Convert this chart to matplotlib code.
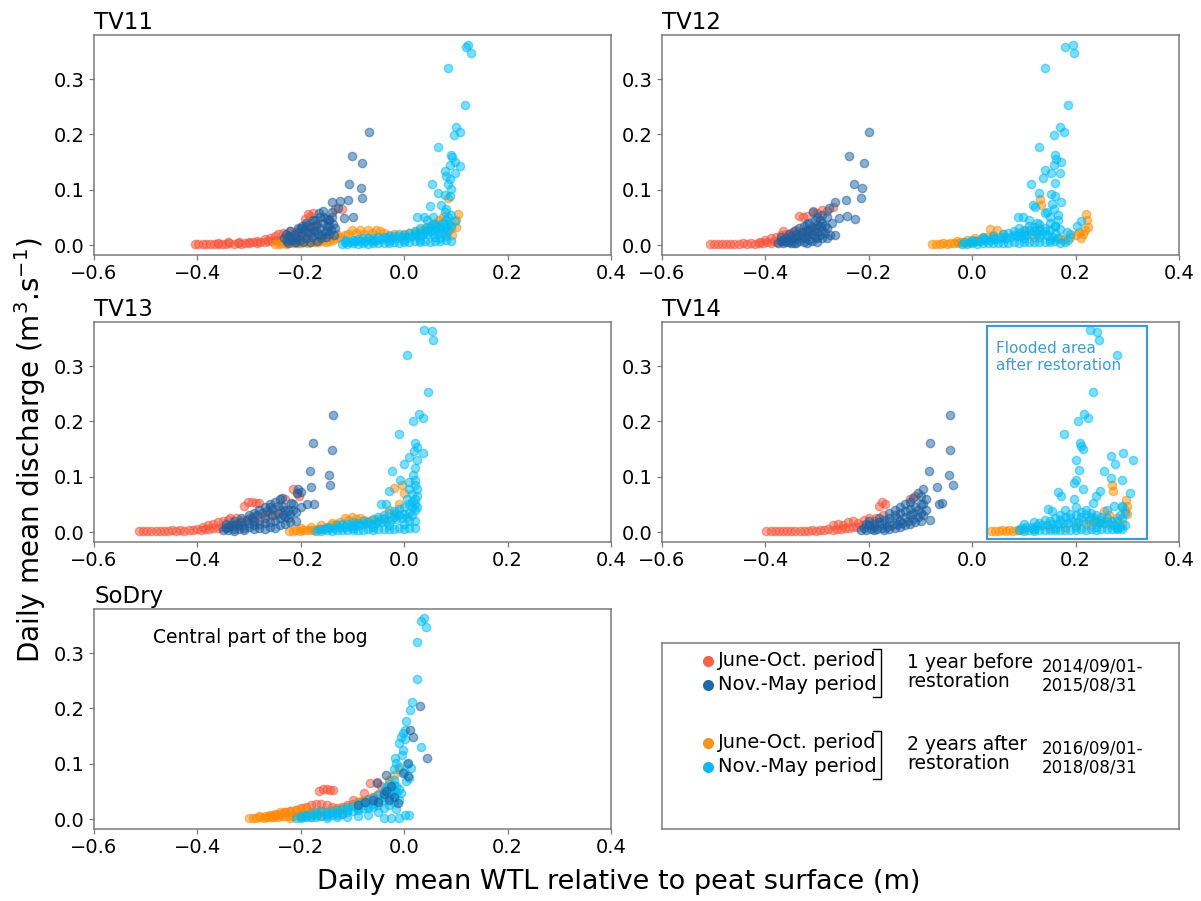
import matplotlib
matplotlib.use("Agg")
import matplotlib.pyplot as plt
from matplotlib.patches import Rectangle

# ---------------- data (WTL in m, discharge in m3/s) ----------------
panels = ["TV11", "TV12", "TV13", "TV14", "SoDry"]
x_ticks = [-0.6, -0.4, -0.2, 0.0, 0.2, 0.4]
y_ticks = [0.0, 0.1, 0.2, 0.3]

legend_labels = ["June-Oct. period", "Nov.-May period", "June-Oct. period", "Nov.-May period"]
period_labels = ["1 year before\nrestoration", "2 years after\nrestoration"]
date_labels = ["2014/09/01-\n2015/08/31", "2016/09/01-\n2018/08/31"]

# TV11
tv11_jo_before = [(-0.405,0.002),(-0.398,0.001),(-0.39,0.002),(-0.383,0.001),(-0.375,0.002),(-0.368,0.001),(-0.36,0.002),(-0.352,0.002),(-0.345,0.001),(-0.338,0.003),(-0.33,0.002),(-0.322,0.003),(-0.315,0.002),(-0.308,0.004),(-0.3,0.003),(-0.293,0.005),(-0.285,0.004),(-0.278,0.006),(-0.27,0.005),(-0.263,0.008),(-0.255,0.007),(-0.248,0.01),(-0.24,0.009),(-0.233,0.012),(-0.225,0.011),(-0.218,0.014),(-0.21,0.013),(-0.203,0.017),(-0.195,0.016),(-0.188,0.02),
    (-0.3,0.006),(-0.285,0.008),(-0.27,0.011),(-0.26,0.013),(-0.25,0.016),(-0.245,0.02),(-0.235,0.022),(-0.228,0.018),(-0.22,0.025),(-0.212,0.02),(-0.205,0.028),(-0.198,0.024),(-0.19,0.032),(-0.182,0.03),(-0.175,0.035),(-0.168,0.04),
    (-0.191,0.047),(-0.187,0.056),(-0.182,0.052),(-0.176,0.058),(-0.145,0.045),(-0.133,0.065),(-0.12,0.065),(-0.36,0.004),(-0.34,0.005),(-0.32,0.006)]
tv11_nm_before = [(-0.232,0.012),(-0.226,0.008),(-0.222,0.016),(-0.218,0.01),(-0.214,0.02),(-0.21,0.013),(-0.206,0.024),(-0.202,0.01),(-0.198,0.018),(-0.194,0.028),(-0.19,0.012),(-0.186,0.022),(-0.182,0.032),(-0.178,0.015),(-0.174,0.026),(-0.17,0.036),(-0.166,0.02),(-0.162,0.03),(-0.158,0.04),(-0.154,0.024),(-0.15,0.034),(-0.146,0.045),(-0.142,0.028),(-0.138,0.038),(-0.134,0.03),
    (-0.228,0.02),(-0.22,0.025),(-0.212,0.006),(-0.205,0.03),(-0.198,0.035),(-0.19,0.04),(-0.183,0.005),(-0.176,0.045),(-0.168,0.008),(-0.16,0.012),(-0.152,0.015),(-0.145,0.02),(-0.14,0.05),(-0.135,0.018),
    (-0.225,0.004),(-0.21,0.005),(-0.195,0.006),(-0.18,0.022),(-0.17,0.028),(-0.16,0.018),(-0.15,0.025),(-0.145,0.035),(-0.2,0.03),(-0.188,0.036),(-0.172,0.045),(-0.163,0.05),(-0.15,0.048),(-0.14,0.06),
    (-0.165,0.058),(-0.158,0.061),(-0.14,0.077),(-0.128,0.067),(-0.125,0.079),(-0.109,0.081),(-0.116,0.049),(-0.099,0.051),(-0.107,0.111),(-0.083,0.104),(-0.082,0.086),(-0.101,0.161),(-0.081,0.148),(-0.069,0.205),(-0.155,0.05)]
tv11_jo_after = [(-0.25,0.002),(-0.243,0.002),(-0.236,0.003),(-0.229,0.002),(-0.222,0.003),(-0.215,0.004),(-0.208,0.003),(-0.201,0.004),(-0.194,0.005),(-0.187,0.004),(-0.18,0.005),(-0.173,0.006),(-0.166,0.005),(-0.159,0.007),(-0.152,0.006),(-0.145,0.008),(-0.138,0.01),(-0.131,0.012),(-0.124,0.015),(-0.2,0.008),(-0.19,0.009),(-0.175,0.01),(-0.16,0.012),(-0.145,0.014),(-0.13,0.02),
    (-0.115,0.018),(-0.108,0.02),(-0.101,0.027),(-0.093,0.022),(-0.085,0.027),(-0.077,0.02),(-0.07,0.027),(-0.062,0.022),(-0.055,0.027),(-0.047,0.026),(-0.04,0.022),(-0.03,0.018),(-0.02,0.02),(-0.01,0.017),(0.0,0.02),(0.01,0.022),(0.02,0.024),(0.03,0.028),(0.04,0.03),(0.05,0.035),(0.06,0.04),(0.068,0.045),(0.075,0.05),(0.085,0.085),(0.09,0.03),(0.092,0.019),(0.1,0.045),(0.101,0.032),(0.105,0.056),(0.08,0.02)]
tv11_nm_after = [(-0.12,0.002),(-0.11,0.002),(-0.1,0.003),(-0.09,0.002),(-0.08,0.003),(-0.07,0.002),(-0.06,0.004),(-0.05,0.003),(-0.04,0.004),(-0.03,0.003),(-0.02,0.005),(-0.01,0.004),(0.0,0.006),(0.01,0.005),(0.02,0.007),(0.03,0.006),(0.04,0.008),(0.05,0.006),(0.06,0.008),(0.07,0.007),(0.08,0.009),(0.09,0.008),
    (-0.115,0.005),(-0.105,0.006),(-0.095,0.007),(-0.085,0.008),(-0.075,0.008),(-0.065,0.009),(-0.055,0.01),(-0.045,0.011),(-0.035,0.012),(-0.025,0.012),(-0.015,0.013),(-0.005,0.014),(0.005,0.015),(0.015,0.016),(0.025,0.017),(0.035,0.018),(0.045,0.02),(0.055,0.02),(0.065,0.022),(0.075,0.024),(0.085,0.026),
    (-0.09,0.011),(-0.07,0.013),(-0.05,0.015),(-0.03,0.017),(-0.01,0.02),(0.01,0.022),(0.02,0.026),(0.03,0.03),(0.04,0.028),(0.045,0.033),(0.05,0.03),(0.055,0.038),(0.06,0.034),(0.065,0.036),(0.07,0.03),(0.075,0.04),(0.08,0.045),(0.085,0.05),(0.09,0.035),(0.09,0.055),
    (-0.115,0.009),(-0.1,0.01),(-0.08,0.012),(-0.06,0.013),(-0.04,0.015),(-0.02,0.016),(0.0,0.018),(0.02,0.02),(0.03,0.022),(0.04,0.024),(0.05,0.026),(0.06,0.028),(0.07,0.03),(0.08,0.032),(0.085,0.038),(0.06,0.015),(0.07,0.012),(0.08,0.016),(0.03,0.01),(0.0,0.01),(-0.03,0.008),(-0.06,0.007),(0.045,0.045),(0.055,0.05),
    (0.124,0.362),(0.119,0.358),(0.129,0.348),(0.085,0.321),(0.118,0.253),(0.101,0.213),(0.096,0.199),(0.107,0.205),(0.066,0.177),(0.091,0.163),(0.089,0.145),(0.098,0.151),(0.108,0.143),(0.078,0.134),(0.081,0.125),(0.098,0.131),(0.053,0.111),(0.085,0.111),(0.091,0.101),(0.066,0.095),(0.078,0.09),(0.089,0.088),(0.049,0.071),(0.071,0.072),(0.079,0.059),(0.024,0.05),(0.038,0.05),(0.08,0.065),(0.099,0.044),(0.088,0.12),(0.093,0.16)]

# TV12
tv12_jo_before = [(-0.508,0.002),(-0.5,0.001),(-0.492,0.002),(-0.484,0.002),(-0.476,0.001),(-0.468,0.002),(-0.46,0.002),(-0.452,0.001),(-0.444,0.003),(-0.436,0.002),(-0.428,0.003),(-0.42,0.002),(-0.412,0.004),(-0.404,0.003),
    (-0.396,0.005),(-0.39,0.004),(-0.384,0.007),(-0.378,0.006),(-0.372,0.01),(-0.366,0.008),(-0.36,0.013),(-0.354,0.011),(-0.348,0.016),(-0.342,0.014),(-0.336,0.02),(-0.33,0.018),(-0.324,0.024),(-0.318,0.022),(-0.312,0.028),(-0.306,0.026),(-0.3,0.03),
    (-0.39,0.012),(-0.38,0.015),(-0.37,0.018),(-0.36,0.02),(-0.35,0.022),(-0.34,0.027),(-0.335,0.053),(-0.328,0.05),(-0.32,0.052),(-0.308,0.062),(-0.3,0.058),(-0.29,0.063),(-0.28,0.062),(-0.27,0.068),(-0.365,0.025),(-0.4,0.009),(-0.41,0.006)]
tv12_nm_before = [(-0.375,0.004),(-0.37,0.008),(-0.365,0.003),(-0.36,0.012),(-0.355,0.005),(-0.35,0.016),(-0.345,0.004),(-0.34,0.02),(-0.335,0.008),(-0.33,0.024),(-0.325,0.006),(-0.32,0.028),(-0.315,0.01),(-0.31,0.032),(-0.305,0.014),(-0.3,0.036),(-0.295,0.018),(-0.29,0.04),(-0.285,0.022),(-0.28,0.03),
    (-0.36,0.006),(-0.35,0.01),(-0.34,0.012),(-0.33,0.014),(-0.32,0.018),(-0.31,0.02),(-0.3,0.024),(-0.29,0.028),(-0.37,0.014),(-0.355,0.02),(-0.345,0.026),(-0.335,0.03),(-0.325,0.034),(-0.315,0.04),(-0.305,0.045),(-0.34,0.004),(-0.32,0.004),(-0.3,0.006),(-0.28,0.012),(-0.275,0.018),
    (-0.365,0.01),(-0.35,0.004),(-0.335,0.018),(-0.325,0.012),(-0.315,0.026),(-0.305,0.03),(-0.295,0.034),(-0.285,0.035),(-0.29,0.012),(-0.31,0.008),(-0.3,0.012),(-0.32,0.038),(-0.295,0.045),
    (-0.2,0.205),(-0.238,0.161),(-0.209,0.148),(-0.228,0.111),(-0.213,0.104),(-0.215,0.086),(-0.244,0.081),(-0.266,0.077),(-0.277,0.067),(-0.258,0.049),(-0.242,0.052),(-0.226,0.048),(-0.266,0.019),(-0.308,0.06),(-0.29,0.055),(-0.28,0.05),(-0.3,0.05),(-0.272,0.04)]
tv12_jo_after = [(-0.077,0.002),(-0.07,0.002),(-0.063,0.002),(-0.056,0.003),(-0.049,0.002),(-0.042,0.003),(-0.035,0.004),(-0.028,0.003),(-0.021,0.005),(-0.014,0.004),(-0.007,0.006),(0.0,0.007),(0.007,0.008),(0.014,0.01),(0.021,0.012),(0.028,0.015),(0.034,0.029),(0.048,0.027),(0.04,0.018),(0.06,0.02),(-0.03,0.008),(-0.01,0.01),(0.005,0.012),
    (0.131,0.084),(0.134,0.073),(0.169,0.012),(0.175,0.01),(0.19,0.015),(0.2,0.018),(0.207,0.023),(0.214,0.02),(0.21,0.012),(0.22,0.056),(0.222,0.046),(0.224,0.032),(0.218,0.028),(0.13,0.03),(0.1,0.025),(0.12,0.015)]
tv12_nm_after = [(-0.02,0.002),(-0.01,0.002),(0.0,0.003),(0.01,0.002),(0.02,0.003),(0.03,0.003),(0.04,0.004),(0.05,0.003),(0.06,0.004),(0.07,0.004),(0.08,0.005),(0.09,0.004),(0.1,0.005),(0.11,0.005),(0.12,0.006),(0.13,0.005),(0.14,0.006),(0.15,0.006),(0.16,0.007),(0.17,0.004),
    (-0.015,0.005),(-0.005,0.006),(0.005,0.007),(0.015,0.008),(0.025,0.009),(0.035,0.01),(0.045,0.011),(0.055,0.012),(0.065,0.013),(0.075,0.014),(0.085,0.016),(0.095,0.017),(0.105,0.018),(0.115,0.02),(0.125,0.022),(0.135,0.02),(0.145,0.018),(0.155,0.015),(0.165,0.012),
    (0.02,0.014),(0.04,0.016),(0.06,0.02),(0.08,0.025),(0.09,0.03),(0.1,0.028),(0.11,0.035),(0.12,0.032),(0.13,0.038),(0.14,0.03),(0.15,0.04),(0.16,0.035),(0.089,0.05),(0.099,0.05),(0.11,0.045),(0.14,0.058),(0.158,0.065),(0.16,0.035),(0.169,0.029),(0.184,0.023),(0.19,0.02),(0.203,0.035),(0.211,0.044),(0.179,0.005),(0.185,0.01),
    (0.0,0.01),(0.02,0.012),(0.04,0.013),(0.06,0.015),(0.08,0.018),(0.1,0.02),(0.12,0.025),(0.13,0.028),(0.14,0.025),(0.15,0.028),(0.16,0.022),(0.07,0.022),(0.09,0.022),(0.11,0.028),(0.125,0.04),(0.15,0.05),(0.165,0.045),(0.1,0.012),(0.13,0.015),(0.15,0.01),
    (0.195,0.362),(0.179,0.358),(0.197,0.348),(0.141,0.321),(0.186,0.253),(0.169,0.213),(0.158,0.199),(0.177,0.205),(0.129,0.177),(0.16,0.163),(0.162,0.155),(0.158,0.145),(0.171,0.151),(0.169,0.13),(0.141,0.136),(0.136,0.122),(0.153,0.131),(0.113,0.111),(0.16,0.113),(0.129,0.095),(0.153,0.092),(0.16,0.088),(0.171,0.077),(0.117,0.073),(0.122,0.068),(0.145,0.06),(0.155,0.075),(0.165,0.055)]

# TV13
tv13_jo_before = [(-0.513,0.002),(-0.505,0.002),(-0.497,0.001),(-0.489,0.002),(-0.481,0.002),(-0.473,0.001),(-0.465,0.002),(-0.457,0.002),(-0.449,0.003),(-0.441,0.002),(-0.433,0.003),(-0.425,0.002),(-0.417,0.004),(-0.409,0.003),(-0.401,0.005),(-0.393,0.004),(-0.385,0.006),(-0.377,0.005),(-0.369,0.008),(-0.361,0.007),(-0.353,0.01),(-0.345,0.009),(-0.337,0.012),(-0.329,0.011),(-0.321,0.015),(-0.313,0.013),
    (-0.39,0.01),(-0.38,0.012),(-0.37,0.015),(-0.36,0.018),(-0.35,0.02),(-0.34,0.022),(-0.337,0.026),(-0.325,0.026),(-0.315,0.022),(-0.309,0.047),(-0.303,0.055),(-0.295,0.054),(-0.287,0.052),(-0.28,0.052),(-0.3,0.025),(-0.29,0.028),(-0.28,0.02),(-0.27,0.03),(-0.26,0.035),(-0.25,0.03),(-0.24,0.04),(-0.215,0.077),(-0.208,0.07),(-0.203,0.065),(-0.23,0.06)]
tv13_nm_before = [(-0.35,0.003),(-0.345,0.008),(-0.34,0.004),(-0.335,0.012),(-0.33,0.005),(-0.325,0.015),(-0.32,0.006),(-0.315,0.018),(-0.31,0.008),(-0.305,0.022),(-0.3,0.01),(-0.295,0.025),(-0.29,0.012),(-0.285,0.03),(-0.28,0.014),(-0.275,0.034),(-0.27,0.016),(-0.265,0.038),(-0.26,0.018),(-0.255,0.042),(-0.25,0.02),(-0.245,0.035),(-0.24,0.025),(-0.235,0.045),(-0.23,0.028),(-0.225,0.04),(-0.22,0.032),(-0.215,0.05),(-0.21,0.036),
    (-0.34,0.01),(-0.33,0.002),(-0.32,0.012),(-0.31,0.003),(-0.3,0.016),(-0.29,0.005),(-0.28,0.008),(-0.27,0.006),(-0.26,0.01),(-0.25,0.008),(-0.24,0.012),(-0.23,0.015),(-0.22,0.018),(-0.21,0.02),(-0.3,0.03),(-0.28,0.04),(-0.26,0.045),(-0.25,0.055),(-0.24,0.06),
    (-0.345,0.015),(-0.33,0.02),(-0.315,0.025),(-0.29,0.035),(-0.27,0.025),(-0.255,0.03),(-0.245,0.048),(-0.235,0.03),(-0.225,0.025),(-0.215,0.04),(-0.29,0.02),(-0.27,0.045),(-0.26,0.05),
    (-0.138,0.211),(-0.176,0.161),(-0.14,0.148),(-0.182,0.111),(-0.146,0.104),(-0.144,0.086),(-0.18,0.081),(-0.205,0.078),(-0.208,0.07),(-0.2,0.072),(-0.237,0.062),(-0.188,0.05),(-0.174,0.05),(-0.219,0.053),(-0.23,0.04),(-0.2,0.045)]
tv13_jo_after = [(-0.223,0.002),(-0.216,0.002),(-0.209,0.003),(-0.202,0.002),(-0.195,0.003),(-0.188,0.003),(-0.181,0.004),(-0.174,0.004),(-0.167,0.005),(-0.16,0.006),(-0.153,0.008),(-0.146,0.01),(-0.139,0.012),(-0.132,0.015),(-0.125,0.018),(-0.115,0.026),(-0.108,0.022),(-0.101,0.027),(-0.093,0.024),(-0.085,0.025),(-0.077,0.022),(-0.07,0.02),(-0.06,0.022),(-0.05,0.024),(-0.04,0.026),(-0.03,0.04),(-0.01,0.05),(-0.019,0.08),(-0.004,0.086),(0.0,0.07),(-0.2,0.008),(-0.18,0.01),(-0.16,0.012),(-0.14,0.016),(-0.02,0.03)]
tv13_nm_after = [(-0.17,0.002),(-0.16,0.002),(-0.15,0.003),(-0.14,0.002),(-0.13,0.003),(-0.12,0.003),(-0.11,0.004),(-0.1,0.003),(-0.09,0.004),(-0.08,0.004),(-0.07,0.005),(-0.06,0.004),(-0.05,0.005),(-0.04,0.006),(-0.03,0.005),(-0.02,0.006),(-0.01,0.007),(0.0,0.006),(0.01,0.008),(0.02,0.007),
    (-0.165,0.005),(-0.155,0.006),(-0.145,0.007),(-0.135,0.008),(-0.125,0.009),(-0.115,0.01),(-0.105,0.011),(-0.095,0.012),(-0.085,0.013),(-0.075,0.014),(-0.065,0.015),(-0.055,0.016),(-0.045,0.018),(-0.035,0.02),(-0.025,0.022),(-0.015,0.024),(-0.005,0.026),(0.005,0.028),(0.015,0.03),(0.02,0.02),
    (-0.12,0.015),(-0.1,0.018),(-0.08,0.02),(-0.06,0.024),(-0.05,0.028),(-0.04,0.03),(-0.03,0.035),(-0.02,0.038),(-0.01,0.042),(0.0,0.045),(0.01,0.05),(0.015,0.055),(0.02,0.06),(0.025,0.065),(0.02,0.04),(0.01,0.035),(0.005,0.06),
    (-0.15,0.01),(-0.13,0.012),(-0.11,0.014),(-0.09,0.016),(-0.07,0.018),(-0.05,0.02),(-0.04,0.024),(-0.02,0.028),(-0.01,0.03),(0.0,0.032),(0.01,0.02),(-0.1,0.008),(-0.06,0.01),(-0.03,0.012),(0.0,0.015),(0.015,0.045),(0.02,0.05),(-0.015,0.035),
    (0.053,0.363),(0.039,0.365),(0.056,0.348),(0.006,0.321),(0.046,0.254),(0.028,0.213),(0.017,0.2),(0.037,0.206),(-0.01,0.177),(0.021,0.161),(0.024,0.153),(0.018,0.146),(0.036,0.143),(0.01,0.136),(0.024,0.13),(0.0,0.124),(-0.024,0.111),(0.02,0.115),(0.017,0.104),(-0.008,0.095),(0.01,0.09),(0.02,0.095),(-0.029,0.074),(0.01,0.077),(0.024,0.077),(-0.044,0.05),(-0.035,0.05),(0.024,0.046),(0.015,0.068),(0.02,0.085)]

# TV14
tv14_jo_before = [(-0.398,0.002),(-0.39,0.002),(-0.382,0.001),(-0.374,0.002),(-0.366,0.002),(-0.358,0.001),(-0.35,0.002),(-0.342,0.002),(-0.334,0.001),(-0.326,0.002),(-0.318,0.002),(-0.31,0.003),(-0.302,0.002),(-0.294,0.004),(-0.286,0.003),(-0.278,0.005),(-0.27,0.004),(-0.262,0.006),(-0.254,0.005),(-0.246,0.008),(-0.238,0.007),(-0.23,0.01),(-0.222,0.009),(-0.214,0.012),
    (-0.27,0.012),(-0.26,0.015),(-0.25,0.012),(-0.24,0.018),(-0.23,0.02),(-0.22,0.016),(-0.21,0.022),(-0.2,0.025),(-0.19,0.02),(-0.187,0.026),(-0.175,0.054),(-0.168,0.05),(-0.18,0.048),(-0.172,0.03),(-0.11,0.065),(-0.12,0.06)]
tv14_nm_before = [(-0.215,0.003),(-0.21,0.008),(-0.205,0.004),(-0.2,0.012),(-0.195,0.005),(-0.19,0.015),(-0.185,0.006),(-0.18,0.018),(-0.175,0.008),(-0.17,0.022),(-0.165,0.01),(-0.16,0.025),(-0.155,0.012),(-0.15,0.03),(-0.145,0.014),(-0.14,0.034),(-0.135,0.016),(-0.13,0.038),(-0.125,0.02),(-0.12,0.042),(-0.115,0.024),(-0.11,0.045),(-0.105,0.028),(-0.1,0.035),(-0.095,0.03),(-0.09,0.04),
    (-0.2,0.02),(-0.19,0.003),(-0.18,0.025),(-0.17,0.004),(-0.16,0.006),(-0.15,0.008),(-0.14,0.01),(-0.13,0.012),(-0.12,0.015),(-0.11,0.018),(-0.1,0.02),(-0.15,0.04),(-0.13,0.05),(-0.12,0.055),(-0.14,0.045),(-0.1,0.05),
    (-0.205,0.015),(-0.19,0.01),(-0.175,0.015),(-0.16,0.018),(-0.145,0.025),(-0.13,0.028),(-0.115,0.035),(-0.105,0.04),(-0.095,0.05),(-0.12,0.03),(-0.14,0.02),(-0.16,0.035),
    (-0.043,0.211),(-0.082,0.161),(-0.043,0.148),(-0.083,0.111),(-0.044,0.104),(-0.038,0.086),(-0.068,0.081),(-0.095,0.078),(-0.105,0.07),(-0.114,0.062),(-0.064,0.05),(-0.058,0.053),(-0.082,0.021),(-0.09,0.06),(-0.1,0.065)]
tv14_jo_after = [(0.037,0.002),(0.044,0.002),(0.051,0.002),(0.058,0.003),(0.065,0.002),(0.072,0.003),(0.079,0.002),(0.086,0.003),(0.093,0.004),(0.1,0.005),(0.12,0.006),(0.15,0.008),(0.18,0.01),(0.2,0.012),(0.22,0.015),(0.24,0.02),(0.27,0.086),(0.272,0.074),(0.255,0.038),(0.298,0.058),(0.3,0.047),(0.3,0.032),(0.248,0.017),(0.235,0.025),(0.26,0.02),(0.28,0.025),(0.29,0.015),(0.295,0.04),(0.265,0.03),(0.23,0.012)]
tv14_nm_after = [(0.09,0.003),(0.1,0.002),(0.11,0.003),(0.12,0.002),(0.13,0.003),(0.14,0.003),(0.15,0.004),(0.16,0.003),(0.17,0.004),(0.18,0.003),(0.19,0.004),(0.2,0.004),(0.21,0.005),(0.22,0.004),(0.23,0.005),(0.24,0.004),(0.25,0.005),(0.26,0.005),(0.27,0.006),(0.28,0.005),(0.29,0.006),
    (0.095,0.008),(0.105,0.009),(0.115,0.01),(0.125,0.011),(0.135,0.012),(0.145,0.013),(0.155,0.014),(0.165,0.015),(0.175,0.016),(0.185,0.017),(0.195,0.018),(0.205,0.019),(0.215,0.02),(0.225,0.021),(0.235,0.02),(0.245,0.018),(0.255,0.016),(0.265,0.014),(0.275,0.012),(0.285,0.01),(0.295,0.012),
    (0.12,0.018),(0.14,0.022),(0.16,0.025),(0.17,0.03),(0.18,0.028),(0.19,0.033),(0.2,0.03),(0.21,0.036),(0.22,0.032),(0.23,0.035),(0.24,0.03),(0.25,0.028),(0.26,0.026),(0.28,0.02),(0.29,0.025),(0.29,0.045),
    (0.1,0.015),(0.13,0.016),(0.15,0.02),(0.17,0.022),(0.19,0.025),(0.21,0.028),(0.23,0.028),(0.25,0.022),(0.27,0.02),(0.285,0.03),(0.12,0.006),(0.16,0.008),(0.2,0.009),(0.24,0.01),(0.28,0.008),(0.295,0.035),(0.26,0.04),(0.18,0.04),
    (0.241,0.362),(0.227,0.365),(0.245,0.348),(0.281,0.321),(0.234,0.254),(0.216,0.213),(0.205,0.2),(0.224,0.207),(0.177,0.178),(0.209,0.161),(0.21,0.155),(0.215,0.15),(0.201,0.131),(0.207,0.113),(0.268,0.137),(0.291,0.143),(0.311,0.13),(0.276,0.124),(0.254,0.11),(0.29,0.094),(0.268,0.097),(0.196,0.089),(0.2,0.095),(0.214,0.077),(0.165,0.073),(0.172,0.065),(0.196,0.06),(0.248,0.074),(0.305,0.07),(0.147,0.041),(0.155,0.038),(0.234,0.053),(0.24,0.065),(0.29,0.047),(0.275,0.048),(0.2,0.045),(0.22,0.04)]

# SoDry
sodry_jo_before = [(-0.26,0.005),(-0.25,0.007),(-0.24,0.009),(-0.23,0.012),(-0.22,0.015),(-0.21,0.017),(-0.2,0.02),(-0.19,0.022),(-0.18,0.025),(-0.17,0.027),(-0.16,0.028),(-0.15,0.025),(-0.14,0.022),(-0.13,0.02),(-0.12,0.022),(-0.11,0.025),(-0.1,0.027),(-0.09,0.03),(-0.08,0.033),(-0.07,0.036),(-0.06,0.04),(-0.05,0.045),
    (-0.164,0.05),(-0.158,0.055),(-0.15,0.054),(-0.143,0.052),(-0.137,0.052),(-0.067,0.065),(-0.053,0.067),(-0.099,0.035),(-0.078,0.047),(-0.2,0.01),(-0.18,0.012),(-0.16,0.015),(-0.14,0.012),(-0.12,0.01),(-0.045,0.06)]
sodry_nm_before = [(0.031,0.205),(0.012,0.161),(0.017,0.149),(0.008,0.102),(0.044,0.11),(0.008,0.077),(-0.003,0.083),(-0.035,0.079),(-0.053,0.065),(-0.035,0.05),(-0.012,0.029),(-0.06,0.035),(-0.075,0.03),(-0.09,0.025),(-0.04,0.045),(-0.025,0.06),(-0.02,0.04),(-0.05,0.03),(-0.03,0.035)]
sodry_jo_after = [(-0.3,0.002),(-0.293,0.002),(-0.286,0.002),(-0.279,0.003),(-0.272,0.002),(-0.265,0.003),(-0.258,0.003),(-0.251,0.004),(-0.244,0.004),(-0.237,0.005),(-0.23,0.005),(-0.223,0.006),(-0.216,0.006),(-0.209,0.007),(-0.202,0.008),(-0.195,0.008),(-0.188,0.009),(-0.181,0.01),(-0.174,0.011),(-0.167,0.012),(-0.16,0.013),(-0.15,0.015),(-0.14,0.016),(-0.13,0.018),(-0.12,0.02),(-0.11,0.022),
    (-0.26,0.008),(-0.25,0.01),(-0.24,0.012),(-0.23,0.013),(-0.22,0.015),(-0.21,0.016),(-0.2,0.018),(-0.19,0.02),(-0.1,0.025),(-0.09,0.03),(-0.08,0.035),(-0.06,0.04),(-0.04,0.05),(-0.03,0.07),(-0.02,0.08),(-0.01,0.09),(-0.28,0.005),(-0.27,0.006),(-0.22,0.002),(-0.2,0.003),(-0.18,0.004),(-0.16,0.005)]
sodry_nm_after = [(-0.21,0.002),(-0.2,0.002),(-0.19,0.003),(-0.18,0.003),(-0.17,0.004),(-0.16,0.005),(-0.15,0.006),(-0.14,0.007),(-0.13,0.008),(-0.12,0.01),(-0.11,0.012),(-0.1,0.014),(-0.09,0.017),(-0.08,0.02),(-0.07,0.024),(-0.06,0.028),(-0.05,0.034),(-0.04,0.04),(-0.03,0.048),(-0.025,0.055),(-0.02,0.062),(-0.02,0.07),
    (-0.2,0.006),(-0.19,0.008),(-0.18,0.01),(-0.17,0.012),(-0.16,0.014),(-0.15,0.012),(-0.14,0.015),(-0.13,0.017),(-0.12,0.019),(-0.11,0.021),(-0.1,0.024),(-0.09,0.027),(-0.08,0.03),(-0.07,0.034),(-0.06,0.038),(-0.05,0.044),(-0.04,0.05),(-0.035,0.058),(-0.03,0.064),
    (-0.15,0.002),(-0.13,0.003),(-0.11,0.004),(-0.09,0.006),(-0.07,0.008),(-0.05,0.012),(-0.04,0.02),(-0.03,0.025),(-0.02,0.03),(-0.01,0.035),
    (-0.19,0.005),(-0.17,0.008),(-0.15,0.009),(-0.13,0.011),(-0.11,0.016),(-0.09,0.02),(-0.07,0.02),(-0.06,0.022),(-0.05,0.025),(-0.04,0.035),(-0.03,0.04),(-0.025,0.045),(-0.02,0.05),(-0.015,0.06),(-0.01,0.055),
    (0.038,0.363),(0.033,0.359),(0.042,0.348),(0.025,0.321),(0.024,0.254),(0.015,0.211),(0.012,0.198),(0.004,0.177),(0.002,0.161),(-0.003,0.155),(-0.006,0.149),(-0.01,0.137),(0.001,0.145),(0.033,0.13),(-0.003,0.125),(-0.017,0.11),(-0.005,0.115),(-0.015,0.101),(0.014,0.092),(0.004,0.068),(-0.006,0.047),(-0.015,0.047),(-0.039,0.002),(-0.026,0.002),(-0.01,0.002),(0.001,0.008),(0.01,0.008),(-0.015,0.018),(0.0,0.085),(-0.01,0.095),(0.005,0.1),(-0.02,0.09),(0.01,0.075)]

panel_series = {
    "TV11": [tv11_jo_before, tv11_jo_after, tv11_nm_after, tv11_nm_before],
    "TV12": [tv12_jo_before, tv12_jo_after, tv12_nm_after, tv12_nm_before],
    "TV13": [tv13_jo_before, tv13_jo_after, tv13_nm_after, tv13_nm_before],
    "TV14": [tv14_jo_before, tv14_jo_after, tv14_nm_after, tv14_nm_before],
    "SoDry": [sodry_jo_before, sodry_jo_after, sodry_nm_after, sodry_nm_before],
}

# ---------------- styling ----------------
c_red = "#f4563c"
c_orange = "#ff8c00"
c_sky = "#00bcf5"
c_navy = "#1b5f9f"
series_colors = [c_red, c_orange, c_sky, c_navy]
spine_col = "#7a7a7a"
flood_col = "#3f9bd3"

W, H = 1201, 901
fig = plt.figure(figsize=(W / 100, H / 100), dpi=100)

def frac_rect(left, top, right, bottom):
    return [left / W, 1 - bottom / H, (right - left) / W, (bottom - top) / H]

col_lr = [(94, 611), (662, 1179)]
row_tb = [(35, 255), (322, 542), (609, 829)]
grid_pos = {"TV11": (0, 0), "TV12": (0, 1), "TV13": (1, 0), "TV14": (1, 1), "SoDry": (2, 0)}

axes = {}
for name in panels:
    r, c = grid_pos[name]
    l, rr = col_lr[c]
    t, b = row_tb[r]
    ax = fig.add_axes(frac_rect(l, t, rr, b))
    for pts, col in zip(panel_series[name], series_colors):
        xs = [p[0] for p in pts]
        ys = [p[1] for p in pts]
        ax.scatter(xs, ys, s=36, color=col, alpha=0.5, linewidths=1.0, zorder=2)
    ax.set_xlim(-0.6, 0.4)
    ax.set_ylim(-0.018, 0.38)
    ax.set_xticks(x_ticks)
    ax.set_yticks(y_ticks)
    ax.tick_params(labelsize=14, length=3.5, width=0.9, color=spine_col, pad=3)
    for sp in ax.spines.values():
        sp.set_color(spine_col)
        sp.set_linewidth(1.1)
    ax.set_title(name, loc="left", fontsize=16.5, pad=4)
    axes[name] = ax

# TV14 flooded area box
ax14 = axes["TV14"]
ax14.add_patch(Rectangle((0.029, -0.012), 0.309, 0.385, fill=False,
                         edgecolor=flood_col, linewidth=1.6, zorder=3))
ax14.text(0.046, 0.345, "Flooded area\nafter restoration", color=flood_col,
          fontsize=11, ha="left", va="top", linespacing=1.15)

# SoDry annotation
axes["SoDry"].text(-0.486, 0.329, "Central part of the bog", fontsize=13.5,
                   ha="left", va="center")

# Legend panel (drawn in pixel coordinates of the figure)
axl = fig.add_axes(frac_rect(662, 643, 1179, 829))
axl.set_xlim(662, 1179)
axl.set_ylim(829, 643)
axl.set_xticks([])
axl.set_yticks([])
for sp in axl.spines.values():
    sp.set_color(spine_col)
    sp.set_linewidth(1.1)

legend_colors = ["#f4634a", "#1f6aa5", "#f7941d", "#12b9f0"]
item_y = [661, 685, 743, 767]
for lab, col, yy in zip(legend_labels, legend_colors, item_y):
    axl.plot([708], [yy], "o", color=col, ms=8, mec="none")
    axl.text(718, yy, lab, fontsize=14, ha="left", va="center")

for (top, bot) in [(649, 697), (731, 779)]:
    axl.plot([873, 881, 881, 873], [top, top, bot, bot], color="black", lw=1.0)

for lab, yy in zip(period_labels, [672, 754]):
    axl.text(907, yy, lab, fontsize=13.5, ha="left", va="center", linespacing=1.0)
for lab, yy in zip(date_labels, [676, 758]):
    axl.text(1042, yy, lab, fontsize=12, ha="left", va="center", linespacing=1.05)

fig.text(30 / W, 1 - 450 / H, "Daily mean discharge (m$^3$.s$^{-1}$)", rotation=90,
         fontsize=20, ha="center", va="center")
fig.text(619 / W, 1 - 882 / H, "Daily mean WTL relative to peat surface (m)",
         fontsize=19.5, ha="center", va="center")

fig.savefig("out.png", dpi=100)
